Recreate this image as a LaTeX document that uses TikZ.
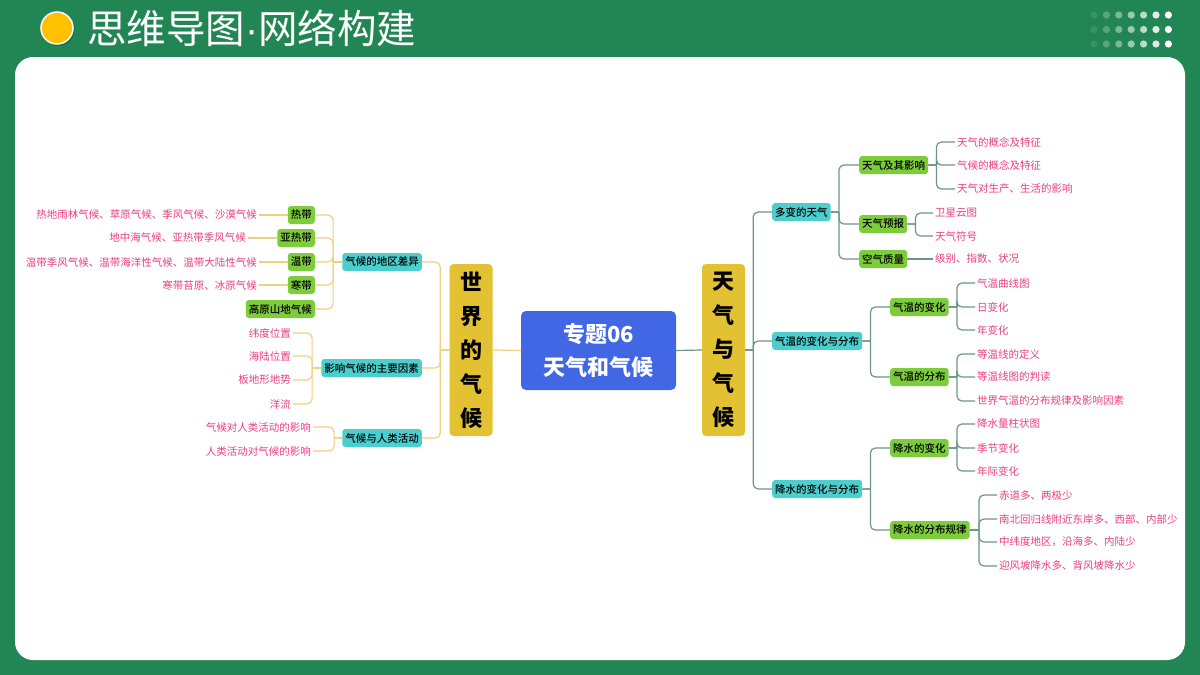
\documentclass[tikz,border=0pt]{standalone}
\usepackage{fontspec}
\setmainfont{Noto Sans CJK SC}
\newfontfamily\medfont{Noto Sans CJK SC Medium}
\newfontfamily\dotfont{Liberation Sans}
\usetikzlibrary{positioning}

\definecolor{bggreen}{RGB}{34,134,84}
\definecolor{topicblue}{RGB}{66,103,228}
\definecolor{goldbox}{RGB}{226,194,50}
\definecolor{cyanbox}{RGB}{77,206,206}
\definecolor{greenbox}{RGB}{124,204,60}
\definecolor{pinktext}{RGB}{232,64,128}
\definecolor{yline}{RGB}{240,208,128}
\definecolor{gline}{RGB}{110,150,135}
\definecolor{sunny}{RGB}{255,192,0}

\begin{document}
\begin{tikzpicture}[
      x=1pt, y=-1pt,
      topic/.style={fill=topicblue, rounded corners=5pt, minimum width=155pt,
        minimum height=79pt, text=white, align=center,
        font=\fontsize{22}{33}\selectfont\bfseries},
      branch/.style={fill=goldbox, rounded corners=4pt, minimum width=43pt,
        minimum height=172pt, align=center, inner sep=0pt,
        font=\fontsize{22}{34}\selectfont\bfseries},
      sub/.style={fill=cyanbox, rounded corners=3pt, minimum height=18pt,
        inner xsep=3pt, inner ysep=0pt, font=\fontsize{10.5}{12}\selectfont\medfont},
      item/.style={sub, fill=greenbox},
      leaf/.style={text=pinktext, inner sep=2pt, font=\fontsize{10.5}{12}\selectfont},
      lline/.style={draw=yline, line width=1.2pt, rounded corners=5pt},
      rline/.style={draw=gline, line width=1.2pt, rounded corners=5pt}
    ]

    % Page and header
    \fill[bggreen] (0,0) rectangle (1200,675);
    \useasboundingbox (0,0) rectangle (1200,675);
    \fill[white, rounded corners=18pt] (15,57) rectangle (1185,660);
    \fill[black, opacity=0.2] (58.5,30) circle (16);
    \filldraw[fill=sunny, draw=white, line width=1.5pt] (57,28) circle (16);
    \node[anchor=west, text=white, inner sep=0pt,
      font=\fontsize{39.5}{42}\selectfont] (title) at (87,28)
      {思维导图{\dotfont ·}网络构建};
    \foreach \i in {0,...,6}
      \foreach \j in {0,1,2}
        \fill[white, opacity=0.1+0.15*\i] (1094+12.4*\i,15+14.5*\j) circle (3.6);

    % Centre
    \node[topic] (root) at (598.5,350.5) {专题06\\天气和气候};
    \node[branch] (world) at (471,350) {世\\界\\的\\气\\候};
    \node[branch] (wx) at (723.5,350) {天\\气\\与\\气\\候};
    \draw[lline] (root.west) -- (world.east);
    \draw[rline] (root.east) -- (wx.west);

    % World climate
    \node[sub, anchor=east] (diff) at (422,262) {气候的地区差异};
    \node[sub, anchor=east] (factor) at (422,368) {影响气候的主要因素};
    \node[sub, anchor=east] (human) at (422,438) {气候与人类活动};
    \foreach \n in {diff,factor,human}
      \draw[lline] (world.west) -- ++(-9,0) ++(0,0) |- (\n.east);

    \node[item, anchor=east] (tropic) at (315,215) {热带};
    \node[item, anchor=east] (subtropic) at (315,238) {亚热带};
    \node[item, anchor=east] (temperate) at (315,262) {温带};
    \node[item, anchor=east] (frigid) at (315,285) {寒带};
    \node[item, anchor=east] (highland) at (315,309) {高原山地气候};
    \foreach \n in {tropic,subtropic,temperate,frigid,highland}
      \draw[lline] (diff.west) -- ++(-9,0) ++(0,0) |- (\n.east);

    \node[leaf, anchor=east] (tropicl) at (259,215) {热地雨林气候、草原气候、季风气候、沙漠气候};
    \node[leaf, anchor=east] (subtropicl) at (248,238) {地中海气候、亚热带季风气候};
    \node[leaf, anchor=east] (temperatel) at (259,262) {温带季风气候、温带海洋性气候、温带大陆性气候};
    \node[leaf, anchor=east] (frigidl) at (259,285) {寒带苔原、冰原气候};
    \draw[lline] (tropicl) -- (tropic);
    \draw[lline] (subtropicl) -- (subtropic);
    \draw[lline] (temperatel) -- (temperate);
    \draw[lline] (frigidl) -- (frigid);

    \node[leaf, anchor=east] (lat) at (293,333) {纬度位置};
    \node[leaf, anchor=east] (sea) at (293,356) {海陆位置};
    \node[leaf, anchor=east] (relief) at (293,380) {板地形地势};
    \node[leaf, anchor=east] (current) at (293,404) {洋流};
    \foreach \n in {lat,sea,relief,current}
      \draw[lline] (factor.west) -- ++(-9,0) ++(0,0) |- (\n.east);

    \node[leaf, anchor=east] (onhuman) at (313,427) {气候对人类活动的影响};
    \node[leaf, anchor=east] (onclimate) at (313,451) {人类活动对气候的影响};
    \foreach \n in {onhuman,onclimate}
      \draw[lline] (human.west) -- ++(-8,0) ++(0,0) |- (\n.east);

    % Weather and climate
    \node[sub, anchor=west] (weather) at (772,212) {多变的天气};
    \node[sub, anchor=west] (temp) at (772,341) {气温的变化与分布};
    \node[sub, anchor=west] (rain) at (772,489) {降水的变化与分布};
    \foreach \n in {weather,temp,rain}
      \draw[rline] (wx.east) -- ++(8,0) ++(0,0) |- (\n.west);

    \node[item, anchor=west] (effect) at (859,165) {天气及其影响};
    \node[item, anchor=west] (forecast) at (859,224) {天气预报};
    \node[item, anchor=west] (air) at (859,259) {空气质量};
    \foreach \n in {effect,forecast,air}
      \draw[rline] (weather.east) -- ++(8,0) ++(0,0) |- (\n.west);

    \node[leaf, anchor=west] (e1) at (955,142) {天气的概念及特征};
    \node[leaf, anchor=west] (e2) at (955,165) {气候的概念及特征};
    \node[leaf, anchor=west] (e3) at (955,189) {天气对生产、生活的影响};
    \foreach \n in {e1,e2,e3}
      \draw[rline] (effect.east) -- ++(8,0) ++(0,0) |- (\n.west);
    \node[leaf, anchor=west] (f1) at (933,213) {卫星云图};
    \node[leaf, anchor=west] (f2) at (933,236) {天气符号};
    \foreach \n in {f1,f2}
      \draw[rline] (forecast.east) -- ++(8,0) ++(0,0) |- (\n.west);
    \node[leaf, anchor=west] (a1) at (933,259) {级别、指数、状况};
    \draw[rline] (air) -- (a1);

    \node[item, anchor=west] (tchange) at (890,307) {气温的变化};
    \node[item, anchor=west] (tdist) at (890,377) {气温的分布};
    \foreach \n in {tchange,tdist}
      \draw[rline] (temp.east) -- ++(8,0) ++(0,0) |- (\n.west);
    \node[leaf, anchor=west] (t1) at (975,283) {气温曲线图};
    \node[leaf, anchor=west] (t2) at (975,307) {日变化};
    \node[leaf, anchor=west] (t3) at (975,330) {年变化};
    \foreach \n in {t1,t2,t3}
      \draw[rline] (tchange.east) -- ++(8,0) ++(0,0) |- (\n.west);
    \node[leaf, anchor=west] (t4) at (975,354) {等温线的定义};
    \node[leaf, anchor=west] (t5) at (975,377) {等温线图的判读};
    \node[leaf, anchor=west] (t6) at (975,401) {世界气温的分布规律及影响因素};
    \foreach \n in {t4,t5,t6}
      \draw[rline] (tdist.east) -- ++(8,0) ++(0,0) |- (\n.west);

    \node[item, anchor=west] (rchange) at (890,448) {降水的变化};
    \node[item, anchor=west] (rdist) at (890,530) {降水的分布规律};
    \foreach \n in {rchange,rdist}
      \draw[rline] (rain.east) -- ++(8,0) ++(0,0) |- (\n.west);
    \node[leaf, anchor=west] (r1) at (975,424) {降水量柱状图};
    \node[leaf, anchor=west] (r2) at (975,448) {季节变化};
    \node[leaf, anchor=west] (r3) at (975,471) {年际变化};
    \foreach \n in {r1,r2,r3}
      \draw[rline] (rchange.east) -- ++(8,0) ++(0,0) |- (\n.west);
    \node[leaf, anchor=west] (r4) at (997,495) {赤道多、两极少};
    \node[leaf, anchor=west] (r5) at (997,519) {南北回归线附近东岸多、西部、内部少};
    \node[leaf, anchor=west] (r6) at (997,542) {中纬度地区，沿海多、内陆少};
    \node[leaf, anchor=west] (r7) at (997,566) {迎风坡降水多、背风坡降水少};
    \foreach \n in {r4,r5,r6,r7}
      \draw[rline] (rdist.east) -- ++(9,0) ++(0,0) |- (\n.west);
  \end{tikzpicture}
\end{document}
